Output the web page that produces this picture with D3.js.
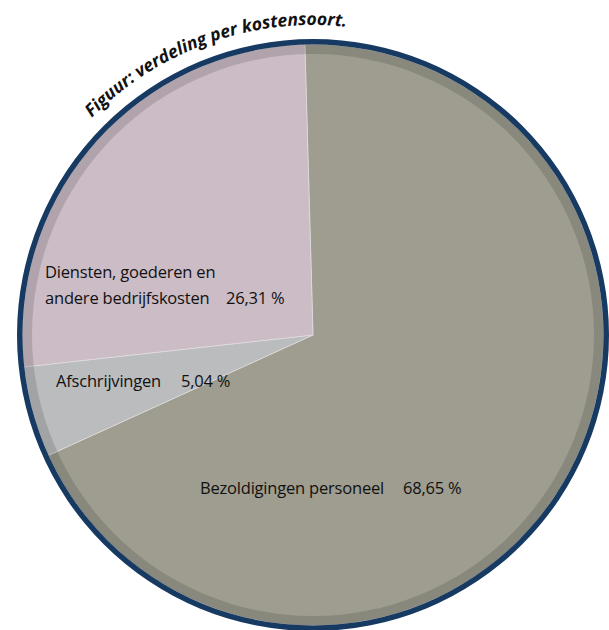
<!DOCTYPE html>
<html>
<head>
<meta charset="utf-8">
<script src="https://cdn.jsdelivr.net/npm/d3@7"></script>
<style>
  html, body { margin: 0; padding: 0; background: #fff; }
  svg { display: block; }
</style>
</head>
<body>
<div id="playground"></div>
<script>
// data
var categories = ["Bezoldigingen personeel", "Afschrijvingen", "Diensten, goederen en andere bedrijfskosten"];
var values = [68.65, 5.04, 26.31];
var valueLabels = ["68,65 %", "5,04 %", "26,31 %"];
var sliceColors = ["#9e9d8f", "#bbbcbe", "#cbbcc6"];
var title = "Figuur: verdeling per kostensoort.";

var width = 609, height = 630;
var cx = 313, cy = 335;
var rOuter = 296;

// label layout: lines, start x, first baseline (px)
var labelLayout = [
  { lines: ["Bezoldigingen personeel"], x: 200, y: 494, valueX: 403 },
  { lines: ["Afschrijvingen"], x: 56, y: 387, valueX: 181 },
  { lines: ["Diensten, goederen en", "andere bedrijfskosten"], x: 45, y: 278, valueX: 226 }
];

var svg = d3.select("#playground").append("svg")
    .attr("width", width)
    .attr("height", height);

var g = svg.append("g").attr("transform", "translate(" + cx + "," + cy + ")");

var startA = -1.6 * Math.PI / 180;
var pie = d3.pie().sort(null).startAngle(startA).endAngle(startA + 2 * Math.PI);
var arcs = pie(values);

var sliceArc = d3.arc().innerRadius(0).outerRadius(rOuter - 5);

g.selectAll("path.slice")
  .data(arcs)
  .enter().append("path")
  .attr("class", "slice")
  .attr("d", sliceArc)
  .attr("fill", function(d, i) { return sliceColors[i]; })
  .attr("stroke", "#e4e2e4")
  .attr("stroke-width", 0.6);

// darker band along the rim
g.append("path")
  .attr("d", d3.arc().innerRadius(rOuter - 15).outerRadius(rOuter - 5)
    .startAngle(0).endAngle(2 * Math.PI)())
  .attr("fill", "#000")
  .attr("fill-opacity", 0.13);

// thin light line + blue outer ring
g.append("circle")
  .attr("r", rOuter - 5)
  .attr("fill", "none")
  .attr("stroke", "#d8d8d8")
  .attr("stroke-width", 1);

g.append("path")
  .attr("d", d3.arc().innerRadius(rOuter - 5.5).outerRadius(rOuter)
    .startAngle(0).endAngle(2 * Math.PI)())
  .attr("fill", "#173a63");

// labels
var labels = svg.append("g")
  .attr("font-family", "'Open Sans', sans-serif")
  .attr("font-size", 16.5)
  .attr("letter-spacing", -0.2)
  .attr("fill", "#111");

labelLayout.forEach(function(l, i) {
  l.lines.forEach(function(line, j) {
    labels.append("text")
      .attr("x", l.x)
      .attr("y", l.y + j * 25.5)
      .text(line);
  });
  labels.append("text")
    .attr("x", l.valueX)
    .attr("y", l.y + (l.lines.length - 1) * 25.5)
    .text(valueLabels[i]);
});

// curved title
var rText = 310;
var a0 = -45.5 * Math.PI / 180, a1 = 10 * Math.PI / 180;
var titlePath = d3.path();
titlePath.arc(0, 0, rText, a0 - Math.PI / 2, a1 - Math.PI / 2, false);

g.append("path")
  .attr("id", "titleArc")
  .attr("d", titlePath.toString())
  .attr("fill", "none");

g.append("text")
  .attr("font-family", "'Open Sans', sans-serif")
  .attr("font-size", 17.5)
  .attr("font-weight", "bold")
  .attr("font-style", "italic")
  .attr("fill", "#111")
  .append("textPath")
  .attr("href", "#titleArc")
  .text(title);
</script>
</body>
</html>
